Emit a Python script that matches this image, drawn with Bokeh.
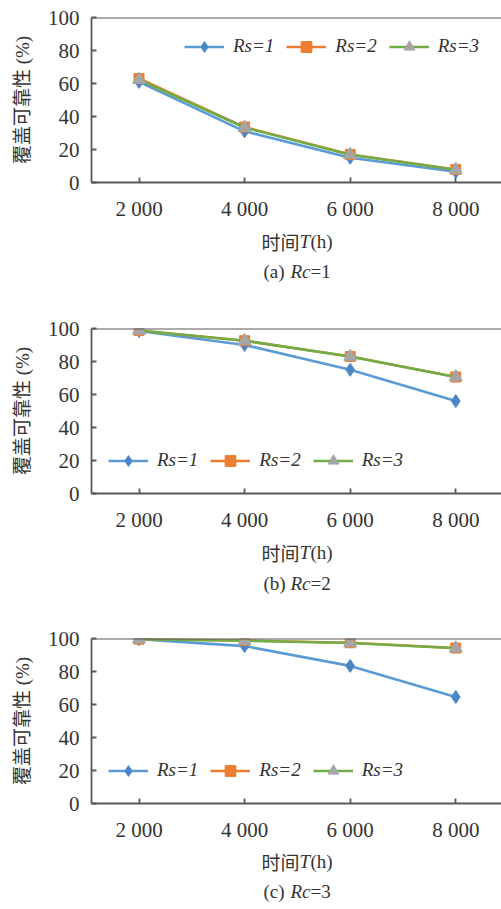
from bokeh.plotting import figure
from bokeh.layouts import column
from bokeh.models import Range1d, FixedTicker, Span, Legend, LegendItem
from bokeh.core.properties import value
from bokeh.embed import file_html
from bokeh.resources import INLINE

# ---------------- data ----------------
T = [2000, 4000, 6000, 8000]
x_tick_labels = ["2 000", "4 000", "6 000", "8 000"]
y_ticks = [0, 20, 40, 60, 80, 100]

a_rs1 = [61.0, 31.0, 15.0, 6.5]
a_rs2 = [63.0, 33.6, 17.0, 7.9]
a_rs3 = [62.3, 33.3, 16.8, 7.7]

b_rs1 = [98.5, 90.0, 75.0, 56.0]
b_rs2 = [98.8, 92.6, 83.0, 70.6]
b_rs3 = [98.8, 92.6, 83.0, 70.6]

c_rs1 = [99.6, 95.4, 83.4, 64.6]
c_rs2 = [99.6, 98.8, 97.4, 94.2]
c_rs3 = [99.6, 98.6, 97.3, 94.1]

series_names = ["Rs=1", "Rs=2", "Rs=3"]
axis_title = ("时间", "T", "(h)")
captions = [("(a)", "Rc", "=1"), ("(b)", "Rc", "=2"), ("(c)", "Rc", "=3")]

# ---------------- style ----------------
SERIF = "Liberation Serif"
MIXED = "Liberation Serif, Noto Sans CJK SC"
CJK = "Noto Sans CJK SC"
TXT = "#333333"
AX = "#595959"
LINE_COLORS = ["#5B9BD5", "#ED7D31", "#70AD47"]
MARK_FILL = ["#4A86C5", "#ED7D31", "#A5A5A5"]
MARKERS = ["diamond", "square", "triangle"]
MSIZE = [13, 10, 13]

W = 501
LEFT = 91
FRAME_W = W - LEFT
FRAME_H = 167
CHART_BOTTOM = 39
UPP = 18.94                       # data units per pixel along x
X0 = 2000 - 47.5 * UPP
X1 = X0 + FRAME_W * UPP


def xd(page_x):
    return X0 + (page_x - LEFT) * UPP


def chart(vals, top, legend_xy):
    height = top + FRAME_H + CHART_BOTTOM
    p = figure(width=W, height=height, output_backend="svg", toolbar_location=None,
               x_range=Range1d(X0, X1), y_range=Range1d(0, 100),
               min_border_left=LEFT, min_border_right=0,
               min_border_top=top, min_border_bottom=CHART_BOTTOM)
    p.outline_line_color = None
    p.grid.visible = False
    p.background_fill_color = None
    p.border_fill_color = None

    for ax in (p.xaxis[0], p.yaxis[0]):
        ax.axis_line_color = AX
        ax.axis_line_width = 1.8
        ax.major_tick_line_color = AX
        ax.major_tick_line_width = 1.8
        ax.major_tick_in = 5
        ax.major_tick_out = 0
        ax.minor_tick_line_color = None
        ax.major_label_text_font = SERIF
        ax.major_label_text_font_size = "21px"
        ax.major_label_text_color = TXT

    p.xaxis.ticker = FixedTicker(ticks=T)
    p.xaxis.major_label_overrides = {t: s for t, s in zip(T, x_tick_labels)}
    p.xaxis.major_label_standoff = 14

    p.yaxis.ticker = FixedTicker(ticks=y_ticks)
    p.yaxis.major_label_standoff = 12
    p.yaxis.axis_label = "覆盖可靠性 (%)"
    p.yaxis.axis_label_text_font = MIXED
    p.yaxis.axis_label_text_font_size = "19px"
    p.yaxis.axis_label_text_font_style = "normal"
    p.yaxis.axis_label_text_color = TXT
    p.yaxis.axis_label_standoff = 12

    p.add_layout(Span(location=100, dimension="width", line_color=AX, line_width=1.8))

    items = []
    for i, ys in enumerate(vals):
        r_line = p.line(T, ys, line_color=LINE_COLORS[i], line_width=2.6)
        r_mark = p.scatter(T, ys, marker=MARKERS[i], size=MSIZE[i],
                           fill_color=MARK_FILL[i], line_color=MARK_FILL[i])
        items.append(LegendItem(label=series_names[i], renderers=[r_line, r_mark]))

    legend = Legend(items=items, orientation="horizontal", location=legend_xy,
                    glyph_width=40, glyph_height=27, label_standoff=9, spacing=12,
                    padding=0, margin=0, border_line_color=None,
                    background_fill_alpha=0,
                    label_text_font=SERIF, label_text_font_style="italic",
                    label_text_font_size="19px", label_text_color=TXT)
    p.add_layout(legend)
    return p


def captions_fig(height, cap, lab_base, cap_base):
    # text strip under each chart; same x mapping as the chart, y in pixels from its top
    q = figure(width=W, height=height, output_backend="svg", toolbar_location=None,
               x_range=Range1d(X0, X1), y_range=Range1d(height, 0),
               x_axis_type=None, y_axis_type=None,
               min_border_left=LEFT, min_border_right=0,
               min_border_top=0, min_border_bottom=0)
    q.outline_line_color = None
    q.grid.visible = False
    q.background_fill_color = None
    q.border_fill_color = None
    pieces = [
        (261, lab_base, axis_title[0], CJK, "normal"),
        (299, lab_base, axis_title[1], SERIF, "italic"),
        (310, lab_base, axis_title[2], SERIF, "normal"),
        (263, cap_base, cap[0], SERIF, "normal"),
        (290, cap_base, cap[1], SERIF, "italic"),
        (310, cap_base, cap[2], SERIF, "normal"),
    ]
    for x, y, txt, font, style in pieces:
        q.text(x=[xd(x)], y=[y], text=[txt], text_font=value(font),
               text_font_style=style, text_font_size="19px",
               text_color=TXT, text_align="left", text_baseline="alphabetic")
    return q


p1 = chart([a_rs1, a_rs2, a_rs3], 17, (93, 122.5))
t1 = captions_fig(310 - p1.height, captions[0], 18, 48)
p2 = chart([b_rs1, b_rs2, b_rs3], 18, (17, 19.5))
t2 = captions_fig(311 - p2.height, captions[1], 18, 48.5)
p3 = chart([c_rs1, c_rs2, c_rs3], 17, (17, 19.5))
t3 = captions_fig(909 - 621 - p3.height, captions[2], 17, 47)

layout = column(p1, t1, p2, t2, p3, t3, spacing=0)
open("out.html", "w").write(file_html(layout, INLINE))
